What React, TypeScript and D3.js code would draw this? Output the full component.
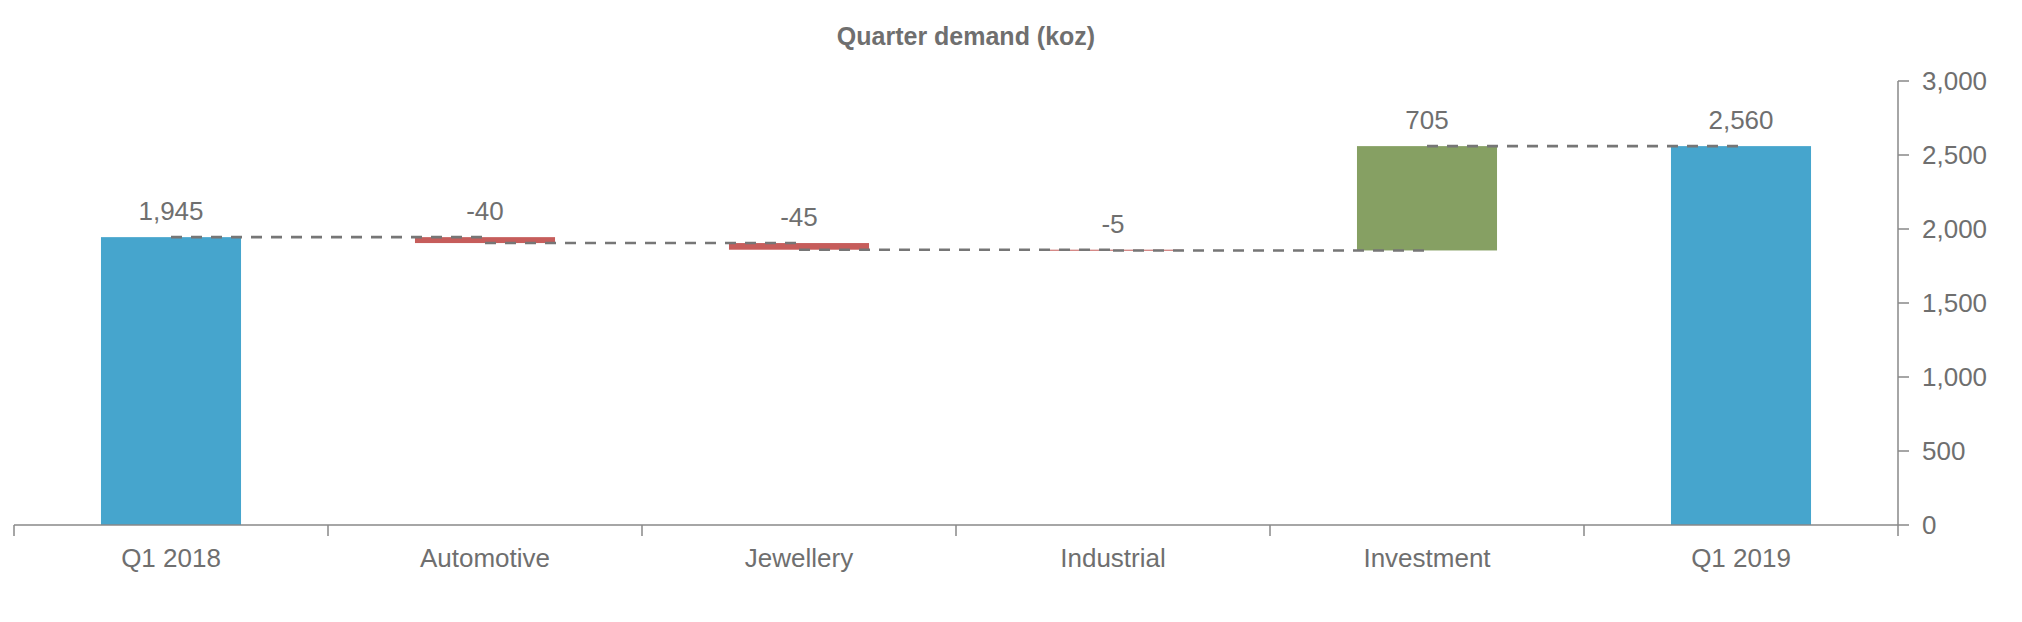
import React from 'react';
import * as d3 from 'd3';

const title = 'Quarter demand (koz)';
const categories = ['Q1 2018', 'Automotive', 'Jewellery', 'Industrial', 'Investment', 'Q1 2019'];
const values = [1945, -40, -45, -5, 705, 2560];
const kinds = ['total', 'delta', 'delta', 'delta', 'delta', 'total'];
const yTicks = [0, 500, 1000, 1500, 2000, 2500, 3000];

const W = 2022;
const H = 622;
const textColor = '#6f6f6f';
const axisColor = '#888888';
const fontFamily = '"Liberation Sans", Arial, Helvetica, sans-serif';

const App = () => {
  const x = d3.scaleBand<string>().domain(categories).range([14, 1898]);
  const y = d3.scaleLinear().domain([0, 3000]).range([525, 81]);
  const barW = x.bandwidth() * 0.446;
  // d3 puts a unicode minus in, the chart uses a plain hyphen
  const fmt = (v: number) => d3.format(',')(v).replace('\u2212', '-');

  // build waterfall steps from the values
  let running = 0;
  const steps = categories.map((c, i) => {
    const v = values[i];
    let from, to;
    if (kinds[i] === 'total') {
      from = 0;
      to = v;
      running = v;
    } else {
      from = running;
      to = running + v;
      running = to;
    }
    const color = kinds[i] === 'total' ? '#46a5cd' : v < 0 ? '#c65d5b' : '#86a063';
    return { c, v, from, to, end: running, color };
  });

  const cx = (c) => (x(c) as number) + x.bandwidth() / 2;
  const boundaries = categories.map((c) => x(c) as number).concat([x.range()[1]]);

  return (
    <div style={{ position: 'fixed', left: 0, top: 0 }}>
      <svg width={W} height={H} style={{ display: 'block', background: '#fff' }} fontFamily={fontFamily}>
        <text x={966} y={45} textAnchor="middle" fontSize={25} fontWeight="bold" fill={textColor}>
          {title}
        </text>

        {steps.map((s) => (
          <rect
            key={s.c}
            x={cx(s.c) - barW / 2}
            width={barW}
            y={y(Math.max(s.from, s.to))}
            height={Math.max(1, Math.abs(y(s.from) - y(s.to)))}
            fill={s.color}
          />
        ))}

        {steps.slice(0, -1).map((s, i) => (
          <line
            key={'c' + i}
            x1={cx(s.c)}
            x2={cx(steps[i + 1].c)}
            y1={y(s.end)}
            y2={y(s.end)}
            stroke="#767676"
            strokeWidth={2.6}
            strokeDasharray="11 9"
          />
        ))}

        {steps.map((s) => (
          <text
            key={'l' + s.c}
            x={cx(s.c)}
            y={y(Math.max(s.from, s.to)) - 17}
            textAnchor="middle"
            fontSize={26}
            fill={textColor}
          >
            {fmt(s.v)}
          </text>
        ))}

        <line x1={x.range()[0]} x2={x.range()[1]} y1={y(0)} y2={y(0)} stroke={axisColor} strokeWidth={1.5} />
        {boundaries.slice(0, -1).map((b, i) => (
          <line key={'t' + i} x1={b} x2={b} y1={y(0)} y2={y(0) + 11} stroke={axisColor} strokeWidth={1.5} />
        ))}
        {categories.map((c) => (
          <text key={'x' + c} x={cx(c)} y={567} textAnchor="middle" fontSize={26} fill={textColor}>
            {c}
          </text>
        ))}

        <line x1={1898} x2={1898} y1={y(3000)} y2={y(0) + 11} stroke={axisColor} strokeWidth={1.5} />
        {yTicks.map((t) => (
          <g key={'y' + t}>
            <line x1={1898} x2={1909} y1={y(t)} y2={y(t)} stroke={axisColor} strokeWidth={1.5} />
            <text x={1922} y={y(t)} dy="0.36em" fontSize={26} fill={textColor}>
              {fmt(t)}
            </text>
          </g>
        ))}
      </svg>
    </div>
  );
};

export default App;
